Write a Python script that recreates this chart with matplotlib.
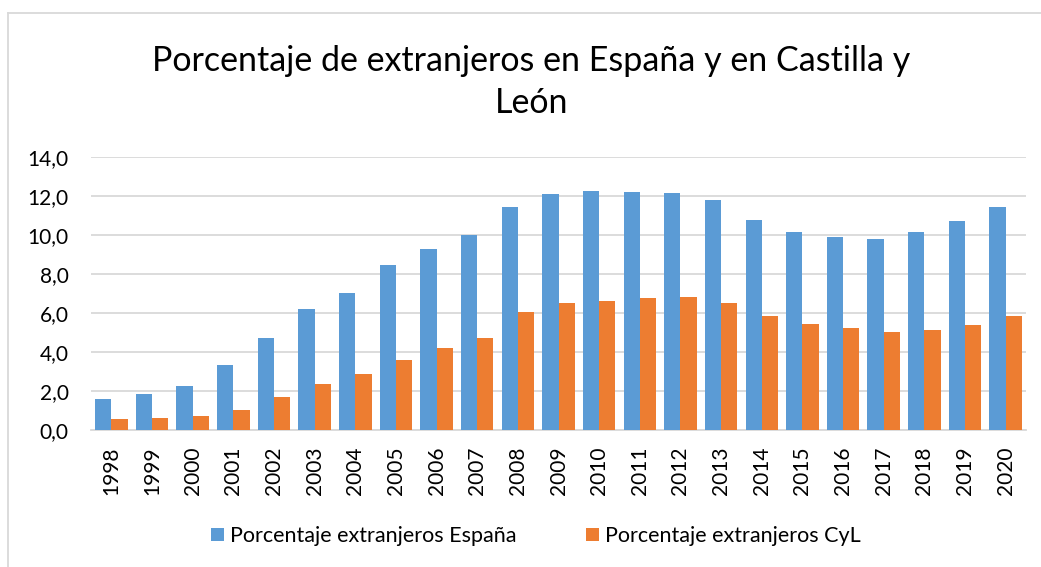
import numpy as np
import matplotlib.pyplot as plt
from matplotlib.lines import Line2D

plt.rcParams['font.family'] = ['Lato', 'DejaVu Sans']

# Datos
anios = [str(a) for a in range(1998, 2021)]
espana = [1.57, 1.84, 2.25, 3.31, 4.71, 6.21, 7.01, 8.45, 9.28, 10.0, 11.42, 12.10,
          12.24, 12.20, 12.13, 11.77, 10.75, 10.14, 9.90, 9.80, 10.14, 10.72, 11.43]
cyl = [0.58, 0.63, 0.72, 1.04, 1.71, 2.35, 2.85, 3.60, 4.20, 4.73, 6.04, 6.52,
       6.62, 6.76, 6.83, 6.52, 5.87, 5.44, 5.24, 5.02, 5.12, 5.41, 5.87]
yticks = [0, 2, 4, 6, 8, 10, 12, 14]

azul = '#5b9bd5'
naranja = '#ed7d31'
W, H = 1041, 567

fig = plt.figure(figsize=(W/100, H/100), dpi=100)
ax = fig.add_axes([91/W, 1 - 430/H, (1026 - 91)/W, (430 - 157)/H])

x = np.arange(len(anios))
w = 0.4
ax.bar(x - w/2, espana, w, color=azul, label='Porcentaje extranjeros España', zorder=3)
ax.bar(x + w/2, cyl, w, color=naranja, label='Porcentaje extranjeros CyL', zorder=3)

ax.set_xlim(-0.5, len(anios) - 0.5)
ax.set_ylim(0, 14)
ax.set_yticks(yticks)
ax.set_yticklabels([f'{v:.1f}'.replace('.', ',') for v in yticks], fontsize=15, color='black')
ax.set_xticks(x)
ax.set_xticklabels(anios, rotation=90, fontsize=15, color='black')
ax.tick_params(axis='y', length=0, pad=16)
ax.tick_params(axis='x', length=0, pad=12)
ax.grid(axis='y', color='#d9d9d9', linewidth=1.3, zorder=0)
for s in ['top', 'right', 'left']:
    ax.spines[s].set_visible(False)
ax.spines['bottom'].set_color('#d9d9d9')
ax.spines['bottom'].set_linewidth(1.3)

fig.text(531.5/W, 1 - 82/H, 'Porcentaje de extranjeros en España y en Castilla y\nLeón',
         ha='center', va='center', fontsize=24.5, color='black', linespacing=1.42)

fig.legend(loc='center', bbox_to_anchor=(536/W, 1 - 536/H), ncol=2, frameon=False,
           fontsize=15.5, handlelength=0.6, handleheight=0.6, columnspacing=3.2,
           handletextpad=0.3, labelcolor='black')

# borde del area del grafico (solo arriba e izquierda visibles)
fig.add_artist(Line2D([8/W, 1], [1 - 13/H, 1 - 13/H], transform=fig.transFigure,
                      color='#d9d9d9', linewidth=1.3))
fig.add_artist(Line2D([8/W, 8/W], [0, 1 - 13/H], transform=fig.transFigure,
                      color='#d9d9d9', linewidth=1.3))

fig.savefig('out.png', dpi=100)
